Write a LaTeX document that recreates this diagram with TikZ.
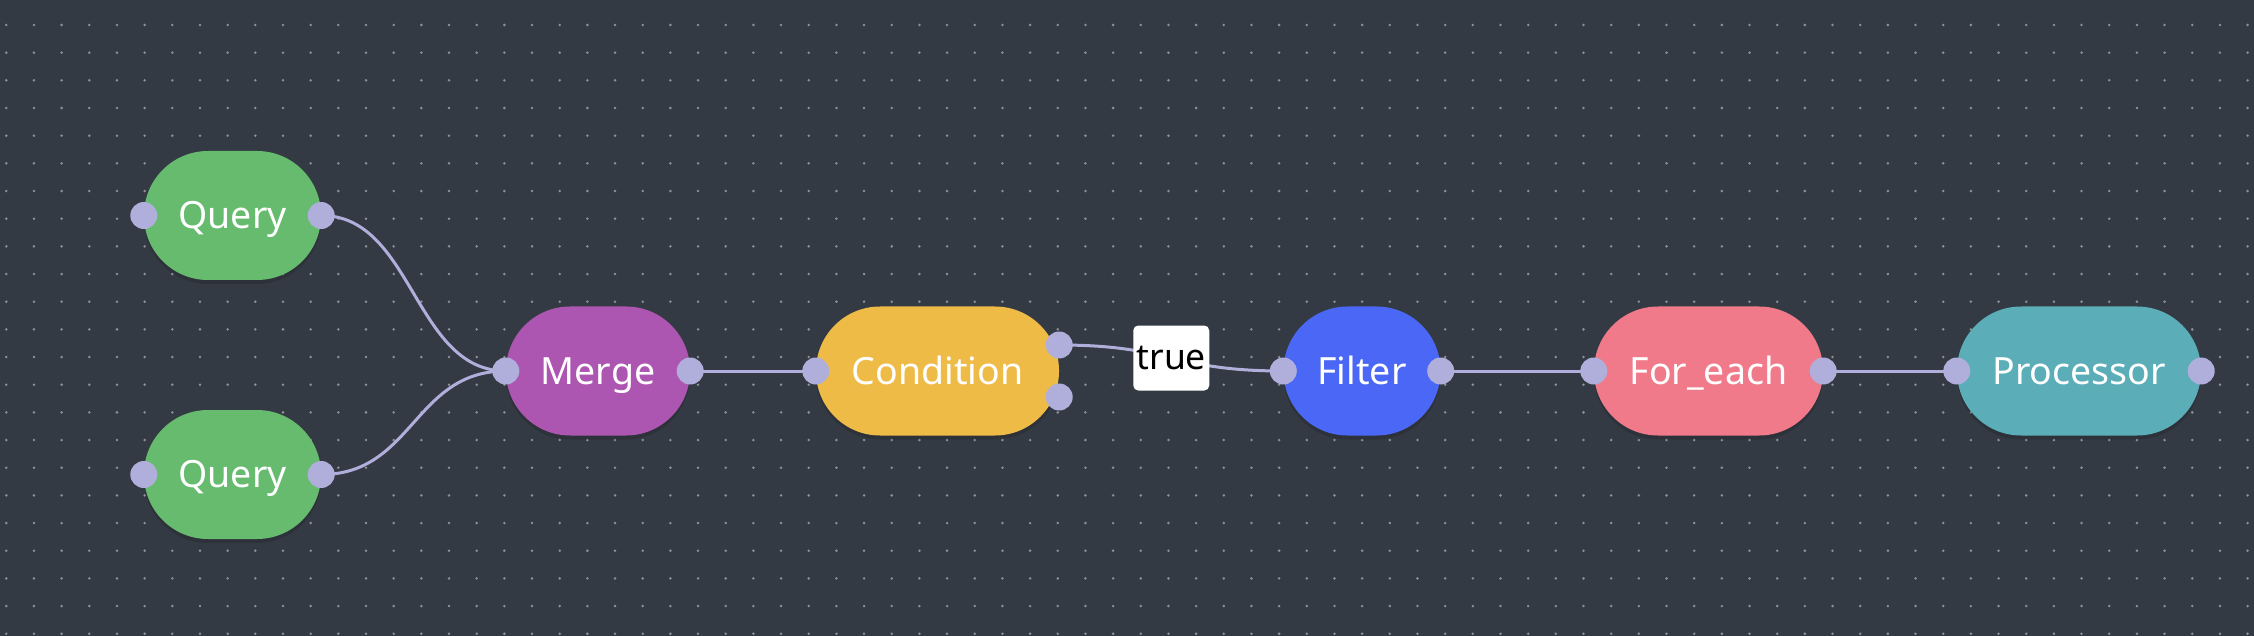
\documentclass[tikz,border=0pt]{standalone}
\usepackage{fontspec}
\setmainfont{Noto Sans}
\usetikzlibrary{calc,shadows}
\definecolor{bgc}{HTML}{343A43}
\definecolor{dotc}{HTML}{8C9097}
\definecolor{qgreen}{HTML}{66BB6F}
\definecolor{mpurple}{HTML}{AD56B1}
\definecolor{cyellow}{HTML}{EFBB47}
\definecolor{fblue}{HTML}{4A68F5}
\definecolor{epink}{HTML}{F07A8A}
\definecolor{pteal}{HTML}{5BADB8}
\definecolor{portc}{HTML}{B0AFDB}
\begin{document}
\begin{tikzpicture}[x=1pt,y=-1pt,
  flow/.style={rectangle, rounded corners=64pt, minimum height=129pt, inner sep=0pt,
    text=white, font=\fontsize{37.5}{44}\selectfont, text height=30pt, text depth=3.5pt,
    drop shadow={shadow xshift=0pt, shadow yshift=-4pt, opacity=0.12, fill=black}},
  port/.style={circle, fill=portc, minimum size=27pt, inner sep=0pt},
  edge/.style={draw=portc, line width=3pt},
  lbl/.style={rectangle, fill=white, rounded corners=5pt, minimum width=76pt, minimum height=65pt,
    inner sep=0pt, text=black, font=\fontsize{35.5}{42}\selectfont}
]
\useasboundingbox (0,0) rectangle (2254,636);
\fill[bgc] (0,0) rectangle (2254,636);
\foreach \i in {0,...,81}
  \foreach \j in {0,...,22}
    \fill[dotc] (6.3+27.67*\i, 25+27.67*\j) circle (1.4);

\node[flow, fill=qgreen, minimum width=177pt] (q1) at (232.5,215.5) {Query};
\node[flow, fill=qgreen, minimum width=177pt] (q2) at (232.5,474.5) {Query};
\node[flow, fill=mpurple, minimum width=184pt] (mg) at (598,371) {Merge};
\node[flow, fill=cyellow, minimum width=243pt] (cond) at (937.5,371) {Condition};
\node[flow, fill=fblue, minimum width=157pt] (fl) at (1362,371) {Filter};
\node[flow, fill=epink, minimum width=229pt] (fe) at (1708.5,371) {For\_each};
\node[flow, fill=pteal, minimum width=244pt] (pr) at (2079,371) {Processor};

\coordinate (ctop) at ($(cond.east)+(0,-26)$);
\coordinate (cbot) at ($(cond.east)+(0,26)$);

\draw[edge] (q1.east) .. controls +(92,0) and +(-92,0) .. (mg.west);
\draw[edge] (q2.east) .. controls +(92,0) and +(-92,0) .. (mg.west);
\draw[edge] (mg.east) -- (cond.west);
\draw[edge] (ctop) .. controls +(112,0) and +(-112,0) .. (fl.west) node[lbl, pos=0.5] (tl) {true};
\draw[edge] (fl.east) -- (fe.west);
\draw[edge] (fe.east) -- (pr.west);

\node[port] (q1i) at (q1.west) {};
\node[port] (q1o) at (q1.east) {};
\node[port] (q2i) at (q2.west) {};
\node[port] (q2o) at (q2.east) {};
\node[port] (mgi) at (mg.west) {};
\node[port] (mgo) at (mg.east) {};
\node[port] (ci) at (cond.west) {};
\node[port] (cot) at (ctop) {};
\node[port] (cob) at (cbot) {};
\node[port] (fli) at (fl.west) {};
\node[port] (flo) at (fl.east) {};
\node[port] (fei) at (fe.west) {};
\node[port] (feo) at (fe.east) {};
\node[port] (pri) at (pr.west) {};
\node[port] (pro) at (pr.east) {};
\end{tikzpicture}
\end{document}
